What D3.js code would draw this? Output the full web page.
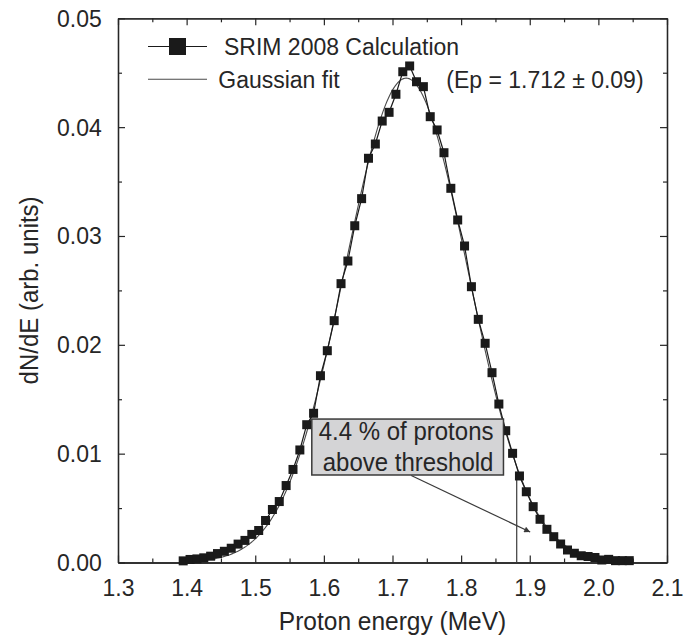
<!DOCTYPE html>
<html>
<head>
<meta charset="utf-8">
<script src="https://cdn.jsdelivr.net/npm/d3@7"></script>
<style>
  html, body { margin: 0; padding: 0; background: #fff; }
  svg text { font-family: "Liberation Sans", Arial, sans-serif; fill: #262626; }
</style>
</head>
<body>
<div id="chart"></div>
<script>
// proton energy spectrum, SRIM 2008 calculation + gaussian fit

// energies (MeV) of the SRIM bins
const energies = [
  1.395, 1.405, 1.415, 1.425, 1.435, 1.445, 1.455, 1.465, 1.475, 1.485,
  1.495, 1.505, 1.515, 1.525, 1.535, 1.545, 1.555, 1.565, 1.575, 1.585,
  1.595, 1.605, 1.615, 1.625, 1.635, 1.645, 1.655, 1.665, 1.675, 1.685,
  1.695, 1.705, 1.715, 1.725, 1.735, 1.745, 1.755, 1.765, 1.775, 1.785,
  1.795, 1.805, 1.815, 1.825, 1.835, 1.845, 1.855, 1.865, 1.875, 1.885,
  1.895, 1.905, 1.915, 1.925, 1.935, 1.945, 1.955, 1.965, 1.975, 1.985,
  1.995, 2.005, 2.015, 2.025, 2.035, 2.045
];
// dN/dE values
const dNdE = [
  0.00015, 0.00028, 0.00033, 0.00043, 0.00058, 0.00082, 0.00103, 0.00131, 0.00169, 0.00203,
  0.00258, 0.00294, 0.00386, 0.00487, 0.00560, 0.00707, 0.00855, 0.01034, 0.01266, 0.01371,
  0.01716, 0.01946, 0.02222, 0.02562, 0.02770, 0.03094, 0.03343, 0.03714, 0.03845, 0.04056,
  0.04136, 0.04302, 0.04509, 0.04562, 0.04417, 0.04372, 0.04096, 0.03974, 0.03765, 0.03438,
  0.03147, 0.02908, 0.02534, 0.02234, 0.02014, 0.01744, 0.01456, 0.01211, 0.01003, 0.00795,
  0.00650, 0.00513, 0.00397, 0.00305, 0.00237, 0.00170, 0.00115, 0.00085, 0.00062, 0.00055,
  0.00046, 0.00023, 0.00029, 0.00017, 0.00017, 0.00017
];

// gaussian fit parameters
const fitPeak = 0.0445;
const fitCenter = 1.720;
const fitSigma = 0.0895;
const fitRange = [1.39, 2.05];

const xTicks = [1.3, 1.4, 1.5, 1.6, 1.7, 1.8, 1.9, 2.0, 2.1];
const xMinorTicks = [1.35, 1.45, 1.55, 1.65, 1.75, 1.85, 1.95, 2.05];
const yTicks = [0, 0.01, 0.02, 0.03, 0.04, 0.05];
const yMinorTicks = [0.005, 0.015, 0.025, 0.035, 0.045];

const legendLabels = ["SRIM 2008 Calculation", "Gaussian fit"];
const fitNote = "(Ep = 1.712 \u00b1 0.09)";
const boxLines = ["4.4 % of protons", "above threshold"];
const threshold = 1.881;

const width = 684, height = 640;
const plotL = 118, plotR = 667, plotT = 18.3, plotB = 562.5;
const ink = "#262626";
const vs = 1.08; // text in the scan is a bit taller than wide

const svg = d3.select("#chart").append("svg")
  .attr("width", width)
  .attr("height", height);

const x = d3.scaleLinear().domain([1.3, 2.1]).range([plotL, plotR]);
const y = d3.scaleLinear().domain([0, 0.05]).range([plotB, plotT]);

// text placed at (tx, ty) and stretched vertically
function addText(parent, tx, ty, str, size, anchor, rot) {
  return parent.append("text")
    .attr("transform", `translate(${tx},${ty})` + (rot ? ` rotate(${rot})` : "") + ` scale(1,${vs})`)
    .attr("text-anchor", anchor || "start")
    .attr("font-size", size)
    .text(str);
}

// --- axes (all ticks point inward) ---
function styleAxis(g) {
  g.selectAll("line").attr("stroke", ink).attr("stroke-width", 1.2);
  g.selectAll("path").attr("stroke", ink).attr("stroke-width", 1.3);
  g.selectAll("text").attr("font-size", 23).attr("fill", ink)
    .style("font-family", "'Liberation Sans', Arial, sans-serif")
    .attr("transform", `scale(1,${vs})`)
    .attr("y", function () { return +this.getAttribute("y") / vs; });
}

svg.append("g")
  .attr("transform", `translate(0,${plotB})`)
  .call(d3.axisBottom(x).tickValues(xTicks).tickSizeInner(-7).tickSizeOuter(0)
    .tickPadding(16).tickFormat(d3.format(".1f")))
  .call(styleAxis);
svg.append("g")
  .attr("transform", `translate(0,${plotB})`)
  .call(d3.axisBottom(x).tickValues(xMinorTicks).tickSizeInner(-4).tickSizeOuter(0).tickFormat(""))
  .call(styleAxis);
svg.append("g")
  .attr("transform", `translate(0,${plotT})`)
  .call(d3.axisTop(x).tickValues(xTicks).tickSizeInner(-7).tickSizeOuter(0).tickFormat(""))
  .call(styleAxis);
svg.append("g")
  .attr("transform", `translate(0,${plotT})`)
  .call(d3.axisTop(x).tickValues(xMinorTicks).tickSizeInner(-4).tickSizeOuter(0).tickFormat(""))
  .call(styleAxis);

svg.append("g")
  .attr("transform", `translate(${plotL},0)`)
  .call(d3.axisLeft(y).tickValues(yTicks).tickSizeInner(-7).tickSizeOuter(0)
    .tickPadding(16.3).tickFormat(d3.format(".2f")))
  .call(styleAxis);
svg.append("g")
  .attr("transform", `translate(${plotL},0)`)
  .call(d3.axisLeft(y).tickValues(yMinorTicks).tickSizeInner(-4).tickSizeOuter(0).tickFormat(""))
  .call(styleAxis);
svg.append("g")
  .attr("transform", `translate(${plotR},0)`)
  .call(d3.axisRight(y).tickValues(yTicks).tickSizeInner(-7).tickSizeOuter(0).tickFormat(""))
  .call(styleAxis);
svg.append("g")
  .attr("transform", `translate(${plotR},0)`)
  .call(d3.axisRight(y).tickValues(yMinorTicks).tickSizeInner(-4).tickSizeOuter(0).tickFormat(""))
  .call(styleAxis);

// axis titles
addText(svg, (plotL + plotR) / 2, 630, "Proton energy (MeV)", 24.5, "middle");
addText(svg, 37.5, (plotT + plotB) / 2, "dN/dE (arb. units)", 24, "middle", -90);

// --- threshold line ---
svg.append("line")
  .attr("x1", x(threshold)).attr("x2", x(threshold))
  .attr("y1", y(0)).attr("y2", y(0.0080))
  .attr("stroke", "#3a3a3a")
  .attr("stroke-width", 1.2);

// --- gaussian fit ---
const fitPoints = d3.range(fitRange[0], fitRange[1] + 1e-9, 0.002).map((e) => ({
  e: e,
  v: fitPeak * Math.exp(-((e - fitCenter) ** 2) / (2 * fitSigma * fitSigma))
}));
svg.append("path")
  .attr("d", d3.line().x((d) => x(d.e)).y((d) => y(d.v))(fitPoints))
  .attr("fill", "none")
  .attr("stroke", "#4a4a4a")
  .attr("stroke-width", 1.1);

// --- SRIM data, line + squares ---
const data = energies.map((e, i) => ({ e: e, v: dNdE[i] }));
svg.append("path")
  .attr("d", d3.line().x((d) => x(d.e)).y((d) => y(d.v))(data))
  .attr("fill", "none")
  .attr("stroke", "#1a1a1a")
  .attr("stroke-width", 1.2);

const sq = 9;
svg.append("g")
  .selectAll("rect")
  .data(data)
  .join("rect")
  .attr("x", (d) => x(d.e) - sq / 2)
  .attr("y", (d) => y(d.v) - sq / 2)
  .attr("width", sq)
  .attr("height", sq)
  .attr("fill", "#1a1a1a");

// --- annotation box + arrow ---
svg.append("defs").append("marker")
  .attr("id", "arrow")
  .attr("viewBox", "0 0 10 10")
  .attr("refX", 10).attr("refY", 5)
  .attr("markerWidth", 9).attr("markerHeight", 6)
  .attr("markerUnits", "userSpaceOnUse")
  .attr("orient", "auto")
  .append("path")
  .attr("d", "M0,0 L10,5 L0,10 z")
  .attr("fill", "#3a3a3a");

svg.append("line")
  .attr("x1", x(1.7273)).attr("y1", y(0.00799))
  .attr("x2", x(1.9006)).attr("y2", y(0.00280))
  .attr("stroke", "#3a3a3a")
  .attr("stroke-width", 1.2)
  .attr("marker-end", "url(#arrow)");

const boxX0 = x(1.5824), boxX1 = x(1.8617);
const boxY0 = y(0.01318), boxY1 = y(0.00804);
svg.append("rect")
  .attr("x", boxX0).attr("y", boxY0)
  .attr("width", boxX1 - boxX0).attr("height", boxY1 - boxY0)
  .attr("fill", "#d4d4d6")
  .attr("stroke", "#3a3a3a")
  .attr("stroke-width", 1.5);

boxLines.forEach((line, i) => {
  addText(svg, boxX1 - 10, boxY0 + 21 + i * 30.7, line, 24, "end");
});

// --- legend ---
const legend = svg.append("g");
legend.append("line")
  .attr("x1", 148).attr("x2", 207).attr("y1", 46.5).attr("y2", 46.5)
  .attr("stroke", "#1a1a1a").attr("stroke-width", 1.2);
legend.append("rect")
  .attr("x", 177.5 - 8.5).attr("y", 46.5 - 8.5)
  .attr("width", 17).attr("height", 17)
  .attr("fill", "#1a1a1a");
addText(legend, 224, 55, legendLabels[0], 23);

legend.append("line")
  .attr("x1", 148).attr("x2", 207).attr("y1", 79.3).attr("y2", 79.3)
  .attr("stroke", "#4a4a4a").attr("stroke-width", 1.1);
addText(legend, 218.3, 87.5, legendLabels[1], 23);

addText(svg, 446.3, 87.5, fitNote, 23);
</script>
</body>
</html>
